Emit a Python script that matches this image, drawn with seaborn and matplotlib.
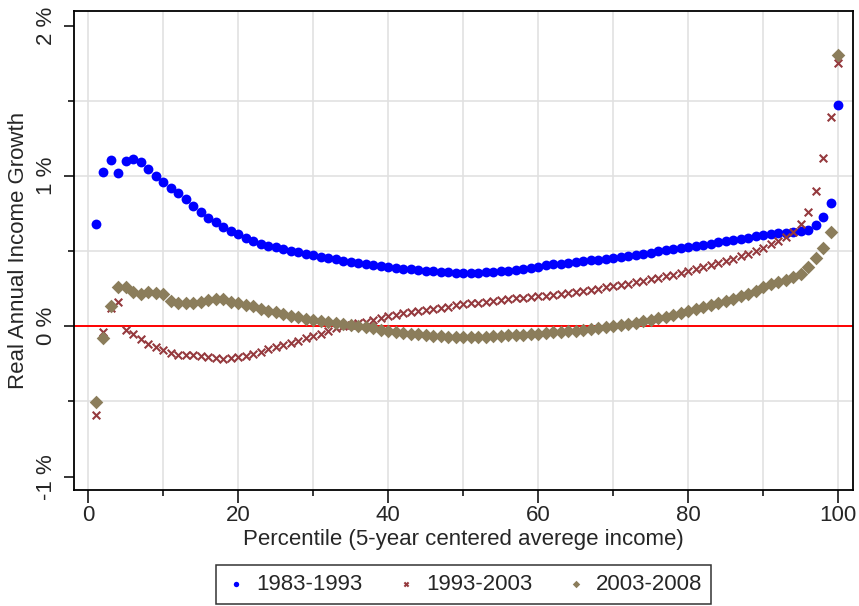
import numpy as np
import pandas as pd
import seaborn as sns
import matplotlib
matplotlib.use("Agg")
import matplotlib.pyplot as plt
from matplotlib.ticker import MultipleLocator, FuncFormatter

sns.set_theme(style="white")
plt.rcParams['font.family'] = ['Liberation Sans', 'DejaVu Sans']

percentile = list(range(1, 101))

growth_1983_1993 = [
    0.680, 1.025, 1.105, 1.018, 1.098, 1.115, 1.093, 1.049, 1.002, 0.962,
    0.920, 0.887, 0.849, 0.804, 0.762, 0.720, 0.693, 0.664, 0.635, 0.613,
    0.591, 0.571, 0.551, 0.537, 0.525, 0.513, 0.502, 0.492, 0.482, 0.473,
    0.464, 0.455, 0.446, 0.437, 0.429, 0.422, 0.415, 0.408, 0.402, 0.396,
    0.390, 0.384, 0.379, 0.374, 0.369, 0.365, 0.362, 0.359, 0.357, 0.356,
    0.356, 0.357, 0.359, 0.362, 0.366, 0.371, 0.377, 0.383, 0.390, 0.397,
    0.405, 0.412, 0.418, 0.424, 0.429, 0.434, 0.439, 0.444, 0.449, 0.456,
    0.463, 0.470, 0.477, 0.484, 0.491, 0.498, 0.505, 0.512, 0.519, 0.527,
    0.535, 0.543, 0.551, 0.559, 0.567, 0.575, 0.583, 0.591, 0.599, 0.607,
    0.613, 0.618, 0.622, 0.628, 0.633, 0.644, 0.673, 0.729, 0.822, 1.473,
]

growth_1993_2003 = [
    -0.593, -0.040, 0.124, 0.162, -0.022, -0.049, -0.082, -0.116, -0.138, -0.160,
    -0.178, -0.190, -0.193, -0.193, -0.195, -0.205, -0.212, -0.214, -0.211, -0.207,
    -0.198, -0.185, -0.168, -0.152, -0.138, -0.124, -0.109, -0.095, -0.080, -0.062,
    -0.049, -0.030, -0.011, 0.000, 0.010, 0.020, 0.030, 0.042, 0.055, 0.067,
    0.077, 0.087, 0.096, 0.104, 0.111, 0.118, 0.125, 0.132, 0.140, 0.147,
    0.152, 0.158, 0.164, 0.171, 0.178, 0.182, 0.186, 0.190, 0.195, 0.200,
    0.205, 0.211, 0.217, 0.224, 0.231, 0.238, 0.244, 0.251, 0.259, 0.267,
    0.276, 0.285, 0.294, 0.303, 0.313, 0.322, 0.332, 0.342, 0.354, 0.367,
    0.381, 0.395, 0.409, 0.423, 0.437, 0.451, 0.466, 0.481, 0.498, 0.518,
    0.545, 0.568, 0.596, 0.629, 0.680, 0.758, 0.900, 1.122, 1.391, 1.751,
]

growth_2003_2008 = [
    -0.504, -0.076, 0.136, 0.262, 0.262, 0.227, 0.213, 0.229, 0.222, 0.213,
    0.169, 0.156, 0.152, 0.158, 0.165, 0.176, 0.185, 0.180, 0.165, 0.156,
    0.144, 0.133, 0.118, 0.104, 0.094, 0.082, 0.070, 0.060, 0.050, 0.042,
    0.035, 0.029, 0.022, 0.016, 0.008, 0.002, -0.005, -0.011, -0.025, -0.032,
    -0.038, -0.043, -0.048, -0.053, -0.058, -0.062, -0.065, -0.068, -0.070, -0.071,
    -0.071, -0.070, -0.068, -0.065, -0.062, -0.060, -0.058, -0.055, -0.052, -0.049,
    -0.045, -0.040, -0.036, -0.032, -0.028, -0.023, -0.018, -0.012, -0.006, 0.000,
    0.008, 0.016, 0.025, 0.034, 0.044, 0.053, 0.063, 0.074, 0.086, 0.100,
    0.113, 0.127, 0.141, 0.156, 0.170, 0.185, 0.200, 0.218, 0.238, 0.265,
    0.280, 0.295, 0.310, 0.325, 0.350, 0.395, 0.458, 0.520, 0.629, 1.807,
]

periods = ["1983-1993", "1993-2003", "2003-2008"]

df = pd.DataFrame({"percentile": percentile,
                   periods[0]: growth_1983_1993,
                   periods[1]: growth_1993_2003,
                   periods[2]: growth_2003_2008})
long = df.melt(id_vars="percentile", var_name="period", value_name="growth")

styles = {
    "1983-1993": dict(color="#0000FF", marker="o", s=50, linewidth=0),
    "1993-2003": dict(color="#953A3E", marker="x", s=30, linewidth=1.5),
    "2003-2008": dict(color="#8B7D5B", marker="D", s=48, linewidth=0),
}

FS = 16

fig = plt.figure(figsize=(8.59, 6.06), dpi=100)
ax = fig.add_axes([0.0861, 0.1914, 0.9069, 0.7904])

ax.axhline(0, color="red", linewidth=1.4, zorder=1)

for p in periods:
    st = styles[p]
    sns.scatterplot(data=long[long.period == p], x="percentile", y="growth",
                    color=st["color"], marker=st["marker"], s=st["s"],
                    linewidth=st["linewidth"],
                    edgecolor=st["color"] if p == "1993-2003" else None,
                    label=p, ax=ax, zorder=3)

ax.set_xlim(-1.9, 101.96)
ax.set_ylim(-1.089, 2.098)

ax.xaxis.set_major_locator(MultipleLocator(20))
ax.xaxis.set_minor_locator(MultipleLocator(10))
ax.yaxis.set_major_locator(MultipleLocator(1))
ax.yaxis.set_minor_locator(MultipleLocator(0.5))
ax.yaxis.set_major_formatter(FuncFormatter(lambda v, pos: f"{v:g} %"))

ax.grid(True, which="both", color="#E1E1E1", linewidth=1.2, zorder=0)
ax.set_axisbelow(True)
# no gridlines at the outer y ticks
for val, gl in zip(ax.get_yticks(), ax.yaxis.get_gridlines()):
    if val <= -1 or val >= 2:
        gl.set_visible(False)

ax.tick_params(axis="both", which="major", direction="out", length=7, width=1.1,
               color="black", labelsize=FS, bottom=True, left=True)
ax.tick_params(axis="both", which="minor", direction="out", length=4, width=1.1,
               color="black", bottom=True, left=True)
ax.tick_params(axis="x", which="major", length=9, pad=2)
ax.tick_params(axis="y", which="major", pad=5)
for lab in ax.get_yticklabels():
    lab.set_rotation(90)
    lab.set_va("center")

for sp in ax.spines.values():
    sp.set_color("black")
    sp.set_linewidth(1.3)

ax.set_xlabel("Percentile (5-year centered averege income)", fontsize=FS, labelpad=2)
ax.set_ylabel("Real Annual Income Growth", fontsize=FS, labelpad=5)

handles, labels = ax.get_legend_handles_labels()
ax.legend_.remove()
leg = fig.legend(handles, labels, loc="center", bbox_to_anchor=(0.5397, 0.0355),
                 ncol=3, frameon=True, fancybox=False, edgecolor="black",
                 fontsize=FS, markerscale=0.55, handletextpad=0.4,
                 columnspacing=1.45, borderpad=0.4, handlelength=1.0)
leg.get_frame().set_linewidth(1.1)

fig.savefig("out.png", dpi=100, facecolor="white")
